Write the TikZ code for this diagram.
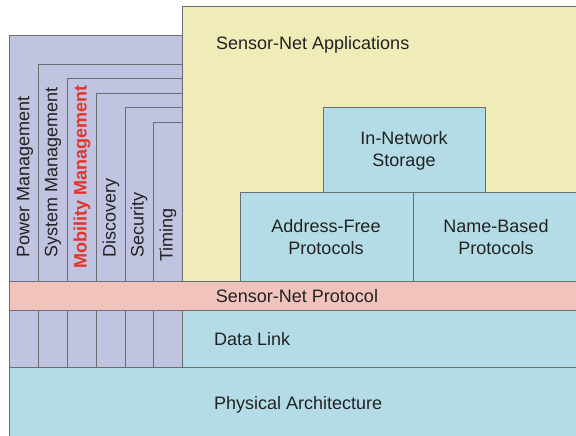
\documentclass[tikz,border=0pt]{standalone}
\usepackage{fontspec}
\setmainfont{Liberation Sans}
\definecolor{lav}{HTML}{C0C4E0}
\definecolor{yel}{HTML}{F0ECB8}
\definecolor{pnk}{HTML}{F0C4BC}
\definecolor{blu}{HTML}{B4DCE6}
\definecolor{redt}{HTML}{E6332A}
\definecolor{edge}{HTML}{6A6E74}
\definecolor{txt}{HTML}{222222}
\begin{document}
\begin{tikzpicture}[x=1pt,y=-1pt,
  box/.style={draw=edge,line width=0.8pt},
  lbl/.style={font=\fontsize{18}{22}\selectfont, text=txt, inner sep=0pt},
  vlbl/.style={lbl, rotate=90, anchor=west}]
\useasboundingbox (0,0) rectangle (576,436);
\fill[white] (0,0) rectangle (576,436);
\clip (0,0) rectangle (576,436);
% physical architecture
\draw[box,fill=blu] (9,367) rectangle (580,440);
% data link
\draw[box,fill=blu] (182,310) rectangle (580,367);
% management planes
\draw[box,fill=lav] (9,35) rectangle (182,281);
\draw[box,fill=lav] (9,310) rectangle (182,367);
\draw[box] (38,281) |- (182,64);
\draw[box] (67,281) |- (182,78);
\draw[box] (96,281) |- (182,93);
\draw[box] (125,281) |- (182,107);
\draw[box] (153,281) |- (182,122);
\foreach \x in {38,67,96,125,153} \draw[box] (\x,310) -- (\x,367);
% sensor-net protocol
\draw[box,fill=pnk] (9,281) rectangle (580,310);
% applications
\draw[box,fill=yel] (182,6) rectangle (580,281);
\draw[box,fill=blu] (323,107) rectangle (485,192);
\draw[box,fill=blu] (240,192) rectangle (413,281);
\draw[box,fill=blu] (413,192) rectangle (580,281);
% labels
\node[lbl,anchor=west] (app) at (216,45) {Sensor-Net Applications};
\node[lbl] (snp) at (297,296) {Sensor-Net Protocol};
\node[lbl,anchor=west] (dl) at (214,339) {Data Link};
\node[lbl,anchor=west] (phy) at (214,405) {Physical Architecture};
\node[lbl,align=center] (ins) at (404,151) {In-Network\\Storage};
\node[lbl,align=center] (afp) at (326,237) {Address-Free\\Protocols};
\node[lbl,align=center] (nbp) at (496,237) {Name-Based\\Protocols};
\node[vlbl] (pm) at (25,258) {Power Management};
\node[vlbl] (sm) at (53,258) {System Management};
\node[vlbl,text=redt,font=\fontsize{18}{22}\selectfont\bfseries] (mm) at (82,269) {Mobility Management};
\node[vlbl] (dis) at (111,258) {Discovery};
\node[vlbl] (sec) at (139,258) {Security};
\node[vlbl] (tim) at (168,262) {Timing};
\end{tikzpicture}
\end{document}
